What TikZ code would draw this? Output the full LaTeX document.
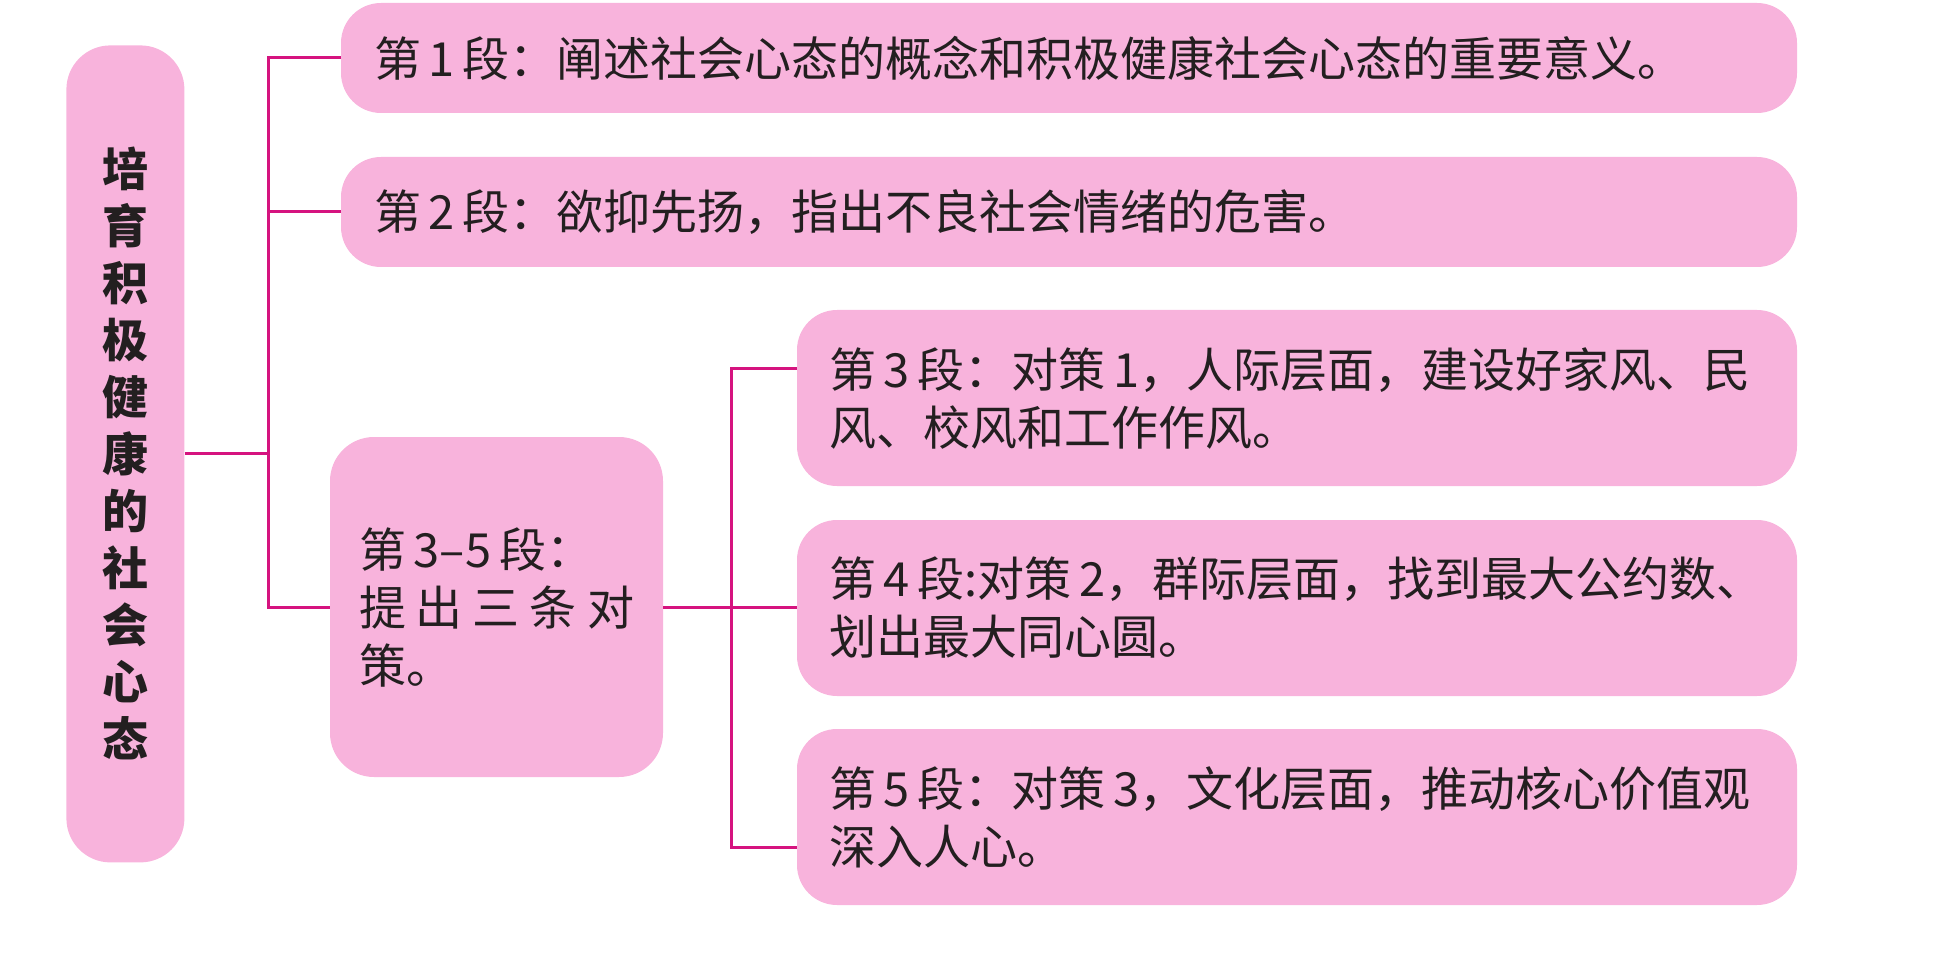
\documentclass[tikz,border=0pt]{standalone}
\usepackage{fontspec}
\setmainfont{Noto Sans CJK SC}
\usetikzlibrary{positioning}
\definecolor{boxpink}{HTML}{F8B3DC}
\definecolor{linkred}{HTML}{D5137F}
\definecolor{inkgray}{HTML}{231F20}
\tikzset{%
  every para/.style={
    fill=boxpink,
    text=inkgray,
    outer sep=0pt,
    inner ysep=0pt,
    align=left,
    font=\fontsize{23.5}{29}\selectfont
  },
  wide para/.style={
    every para,
    rounded corners=20pt,
    text width=695pt,
    inner xsep=16.5pt,
    minimum height=55pt
  },
  sub para/.style={
    every para,
    rounded corners=20pt,
    text width=468pt,
    inner xsep=16pt,
    minimum height=88pt
  },
  link/.style={
    draw=linkred,
    line width=1.5pt
  },
}

\begin{document}
\begin{tikzpicture}[x=0.5pt,y=-0.5pt,node distance=17pt]
      \useasboundingbox (0,0) rectangle (1960,957);
      \tikzstyle{theme}=[fill=boxpink,text=inkgray,rounded corners=22pt,inner sep=0pt,
        minimum width=59pt,minimum height=408.5pt,align=center,
        font=\bfseries\fontsize{23}{28.5}\selectfont]

      \node[theme,anchor=north west] (title) at (66,45)
        {培\\育\\积\\极\\健\\康\\的\\社\\会\\心\\态};

      \node[wide para,anchor=north west] (box1) at (341,3)
        {第\,1\,段：阐述社会心态的概念和积极健康社会心态的重要意义。};
      \node[wide para,below=22pt of box1] (box2)
        {第\,2\,段：欲抑先扬，指出不良社会情绪的危害。};

      \node[every para,anchor=north west,rounded corners=22pt,text width=137.5pt,
        inner xsep=14.5pt,minimum height=170pt] (mid) at (330,437)
        {第\,3–5\,段：\\\makebox[\linewidth]{提\hfill 出\hfill 三\hfill 条\hfill 对}\\策。};

      \node[sub para,anchor=north west] (box3) at (797,310)
        {第\,3\,段：对策\,1，人际层面，建设好家风、民\\风、校风和工作作风。};
      \node[sub para,below=of box3] (box4)
        {第\,4\,段:对策\,2，群际层面，找到最大公约数、\\划出最大同心圆。};
      \node[sub para,below=16.5pt of box4] (box5)
        {第\,5\,段：对策\,3，文化层面，推动核心价值观\\深入人心。};

      \coordinate (bus) at (268,0);
      \coordinate (bus2) at (731,0);
      \coordinate (c3) at ([yshift=15pt]box3.west);
      \coordinate (c5) at ([yshift=-15pt]box5.west);

      \draw[link] (box1.west) -| (bus |- mid.west) -- (mid.west);
      \draw[link] (box2.west) -- (bus |- box2.west);
      \draw[link] (title.east) -- (bus |- title.east);
      \draw[link] (c3) -| (bus2 |- c5) -- (c5);
      \draw[link] (mid.east) -- (mid.east -| box4.west);
  \end{tikzpicture}
\end{document}
